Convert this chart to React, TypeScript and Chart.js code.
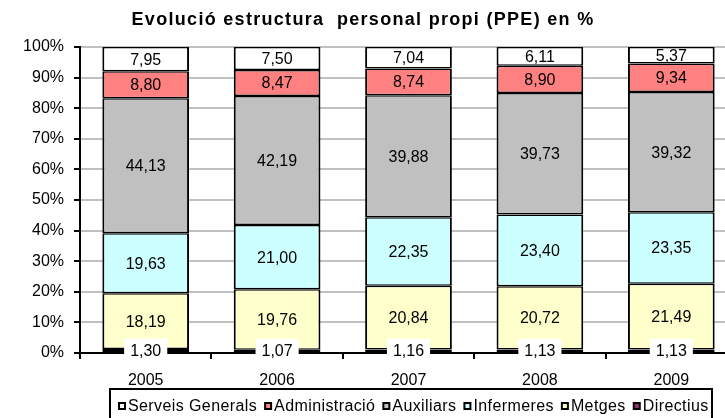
import React, { useEffect, useRef } from 'react';
import { Chart, registerables } from 'chart.js';

Chart.register(...registerables);

const titleText = 'Evolució estructura  personal propi (PPE) en %';
const years = ['2005', '2006', '2007', '2008', '2009'];
// stacked bottom -> top
const directius = [1.3, 1.07, 1.16, 1.13, 1.13];
const metges = [18.19, 19.76, 20.84, 20.72, 21.49];
const infermeres = [19.63, 21.0, 22.35, 23.4, 23.35];
const auxiliars = [44.13, 42.19, 39.88, 39.73, 39.32];
const administracio = [8.8, 8.47, 8.74, 8.9, 9.34];
const serveisGenerals = [7.95, 7.5, 7.04, 6.11, 5.37];
const seriesNames = ['Directius', 'Metges', 'Infermeres', 'Auxiliars', 'Administració', 'Serveis Generals'];
const seriesColors = ['#993366', '#FFFFCC', '#CCFFFF', '#C0C0C0', '#FF8080', '#FFFFFF'];
const yMin = 0;
const yMax = 100;
const yStep = 10;

const FONT = '"Liberation Sans", Arial, sans-serif';

const labelPlugin = {
  id: 'valueLabels',
  afterDatasetsDraw(chart: any) {
    const ctx = chart.ctx;
    ctx.save();
    ctx.font = `16px ${FONT}`;
    ctx.textAlign = 'center';
    ctx.textBaseline = 'middle';
    chart.data.datasets.forEach((ds: any, di: number) => {
      const meta = chart.getDatasetMeta(di);
      meta.data.forEach((el: any, i: number) => {
        const v = ds.data[i] as number;
        const txt = v.toFixed(2).replace('.', ',');
        const p = el.getProps(['x', 'y', 'base'], true);
        const cy = (p.y + p.base) / 2;
        if (di === 0) {
          const w = ctx.measureText(txt).width + 12;
          ctx.fillStyle = '#ffffff';
          ctx.fillRect(p.x - w / 2, cy - 12, w, 24);
        }
        ctx.fillStyle = '#000000';
        ctx.fillText(txt, p.x, cy + 1);
      });
    });
    ctx.restore();
  },
};

const frameLegendPlugin = {
  id: 'frameLegend',
  afterDraw(chart: any) {
    const ctx = chart.ctx;
    ctx.save();
    // title
    ctx.font = `bold 18px ${FONT}`;
    (ctx as any).letterSpacing = '1.3px';
    ctx.fillStyle = '#000';
    ctx.textAlign = 'center';
    ctx.textBaseline = 'middle';
    ctx.fillText(titleText, 363, 20);

    // legend
    ctx.font = `16px ${FONT}`;
    (ctx as any).letterSpacing = '0.4px';
    ctx.textAlign = 'left';
    const boxLeft = 110;
    const boxTop = 389;
    const boxRight = 712;
    ctx.strokeStyle = '#000';
    ctx.lineWidth = 2;
    ctx.strokeRect(boxLeft, boxTop, boxRight - boxLeft, 40);
    let x = 118;
    const cy = 406;
    for (let k = seriesNames.length - 1; k >= 0; k--) {
      ctx.fillStyle = '#000';
      ctx.fillRect(x, cy - 4, 8, 8);
      ctx.fillStyle = seriesColors[k];
      ctx.fillRect(x + 2, cy - 2, 4, 4);
      ctx.fillStyle = '#000';
      ctx.fillText(seriesNames[k], x + 10, cy + 1);
      x += 10 + ctx.measureText(seriesNames[k]).width + 7;
    }
    ctx.restore();
  },
};

export default function App() {
  const ref = useRef<HTMLCanvasElement>(null);
  useEffect(() => {
    const canvas = ref.current!;
    const seriesData = [directius, metges, infermeres, auxiliars, administracio, serveisGenerals];
    const chart = new Chart(canvas, {
      type: 'bar',
      data: {
        labels: years,
        datasets: seriesData.map((d, k) => ({
          label: seriesNames[k],
          data: d,
          backgroundColor: seriesColors[k],
          borderColor: '#000000',
          borderWidth: { top: 1.5, bottom: 1.5, left: 2, right: 2 },
          borderSkipped: false,
          categoryPercentage: 1,
          barPercentage: 0.66,
        })),
      },
      options: {
        animation: false,
        responsive: false,
        devicePixelRatio: 1,
        layout: { padding: { top: 47, right: 3, left: 0, bottom: 0 } },
        plugins: {
          legend: { display: false },
          title: { display: false },
          tooltip: { enabled: false },
        },
        scales: {
          x: {
            stacked: true,
            border: { color: '#000', width: 2 },
            grid: { drawOnChartArea: false, drawTicks: true, tickLength: 6, tickColor: '#000', lineWidth: 2, offset: true },
            ticks: { color: '#000', font: { family: FONT, size: 16 }, padding: 12 },
            afterFit: (s: any) => { s.height = 65; },
          },
          y: {
            stacked: true,
            min: yMin,
            max: yMax,
            border: { color: '#000', width: 2 },
            grid: { color: '#C0C0C0', lineWidth: 2, tickColor: '#000', tickLength: 6 },
            ticks: {
              stepSize: yStep,
              color: '#000',
              font: { family: FONT, size: 16 },
              padding: 10,
              callback: (v: any) => `${v}%`,
            },
            afterFit: (s: any) => { s.width = 80; },
          },
        },
      },
      plugins: [labelPlugin, frameLegendPlugin],
    });
    return () => chart.destroy();
  }, []);
  return (
    <div style={{ position: 'fixed', left: 0, top: 0, width: 725, height: 418, overflow: 'hidden', background: '#fff' }}>
      <canvas ref={ref} width={740} height={418} style={{ display: 'block' }} />
    </div>
  );
}
